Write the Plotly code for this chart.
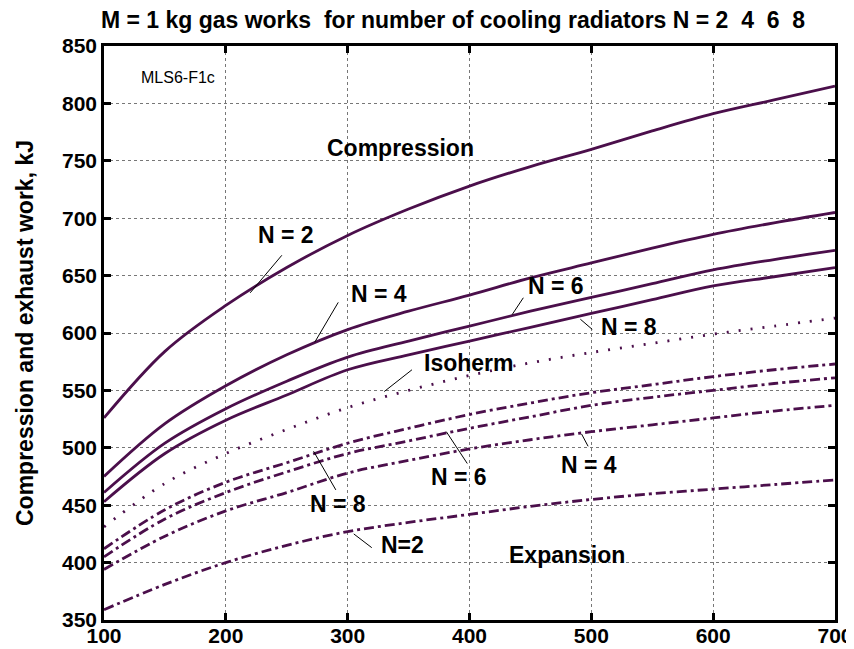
import plotly.graph_objects as go

x_vals = [100, 150, 200, 250, 300, 350, 400, 450, 500, 550, 600, 650, 700]

comp_n2 = [526, 584, 624, 657, 685, 708, 728, 745, 760, 776, 791, 803, 815]
comp_n4 = [475, 521, 554, 581, 603, 619, 633, 648, 661, 674, 686, 696, 705]
comp_n6 = [461, 504, 534, 558, 579, 593, 606, 619, 631, 643, 655, 664, 672]
comp_n8 = [453, 495, 524, 546, 568, 581, 593, 605, 617, 629, 641, 649, 657]

isotherm = [431, 469, 495, 516, 535, 550, 563, 574, 583, 591, 599, 606, 613]

exp_n8 = [412, 446, 470, 487, 504, 517, 529, 539, 548, 555, 562, 568, 573]
exp_n6 = [405, 438, 461, 479, 495, 506, 517, 527, 537, 544, 550, 556, 561]
exp_n4 = [394, 423, 445, 461, 478, 489, 499, 507, 514, 520, 526, 532, 537]
exp_n2 = [359, 381, 400, 415, 427, 435, 442, 449, 455, 460, 464, 468, 472]

x_ticks = [100, 200, 300, 400, 500, 600, 700]
y_ticks = [350, 400, 450, 500, 550, 600, 650, 700, 750, 800, 850]

title_text = "M = 1 kg gas works&nbsp; for number of cooling radiators N = 2&nbsp; 4&nbsp; 6&nbsp; 8"
y_title = "Compression and exhaust work, kJ"

COL = "#4b0f4b"
FONT = "Liberation Sans, Arial, sans-serif"

fig = go.Figure()

for ys in [comp_n2, comp_n4, comp_n6, comp_n8]:
    fig.add_trace(go.Scatter(x=x_vals, y=ys, mode="lines",
                             line=dict(color=COL, width=2.8, shape="spline", smoothing=1.0)))

fig.add_trace(go.Scatter(x=x_vals, y=isotherm, mode="lines",
                         line=dict(color=COL, width=2.8, shape="spline", dash="2px,10px")))

for ys in [exp_n8, exp_n6, exp_n4, exp_n2]:
    fig.add_trace(go.Scatter(x=x_vals, y=ys, mode="lines",
                             line=dict(color=COL, width=2.8, shape="spline", dash="10px,4px,3px,4px")))

# text, text-x, text-y, leader start (x, y), leader end (x, y)
labels = [
    ("N = 2", 249, 685, 247, 669, 220, 635),
    ("N = 4", 326, 634, 293, 628, 273, 592),
    ("N = 6", 471, 641, 445, 632, 435, 616),
    ("N = 8", 531, 605, 502, 602, 491, 612),
    ("Isoherm", 399, 574, 354, 569, 330, 549),
    ("N = 8", 292, 451, 291, 462, 272, 497),
    ("N = 6", 391, 475, 399, 485, 381, 514),
    ("N = 4", 498, 485, 498, 500, 492, 512),
    ("N=2", 345, 415, 321, 412, 305, 425),
]

for txt, tx, ty, sx, sy, ex, ey in labels:
    fig.add_annotation(x=ex, y=ey, ax=sx, ay=sy, axref="x", ayref="y",
                       xref="x", yref="y", text="", showarrow=True,
                       arrowhead=0, arrowwidth=1, arrowcolor="black",
                       standoff=0, startstandoff=0)
    fig.add_annotation(x=tx, y=ty, text=txt, showarrow=False,
                       font=dict(family=FONT, size=23, color="black", weight="bold"))

fig.add_annotation(x=343, y=761, text="Compression", showarrow=False,
                   font=dict(family=FONT, size=23, color="black", weight="bold"))
fig.add_annotation(x=480, y=407, text="Expansion", showarrow=False,
                   font=dict(family=FONT, size=23, color="black", weight="bold"))
fig.add_annotation(x=161, y=823, text="MLS6-F1c", showarrow=False,
                   font=dict(family=FONT, size=16, color="black"))

# page body adds an 8px offset; compensate so the plot lands where the reference has it
W, H = 854, 649
fig.update_layout(
    width=W, height=H,
    margin=dict(l=96, r=27, t=38, b=37, autoexpand=False),
    paper_bgcolor="white", plot_bgcolor="white",
    showlegend=False,
    title=dict(text=title_text, x=445 / W, xanchor="center", xref="container",
               y=1 - 12 / H, yanchor="middle", yref="container",
               font=dict(family=FONT, size=23, color="black", weight="bold")),
    font=dict(family=FONT, color="black"),
)

axis_common = dict(showgrid=True, gridcolor="#777777", griddash="dot", gridwidth=1,
                   showline=True, linecolor="black", linewidth=2.5, mirror="ticks",
                   ticks="inside", ticklen=7, tickwidth=2.5, tickcolor="black",
                   tickfont=dict(family=FONT, size=21, weight="bold"),
                   zeroline=False, automargin=False)

fig.update_xaxes(range=[100, 700], tickvals=x_ticks, ticklabelstandoff=-5, **axis_common)
fig.update_yaxes(range=[350, 850], tickvals=y_ticks, ticklabelstandoff=0,
                 title=dict(text=y_title, standoff=22,
                            font=dict(family=FONT, size=23, weight="bold")),
                 **axis_common)

fig.write_html("out.html")
